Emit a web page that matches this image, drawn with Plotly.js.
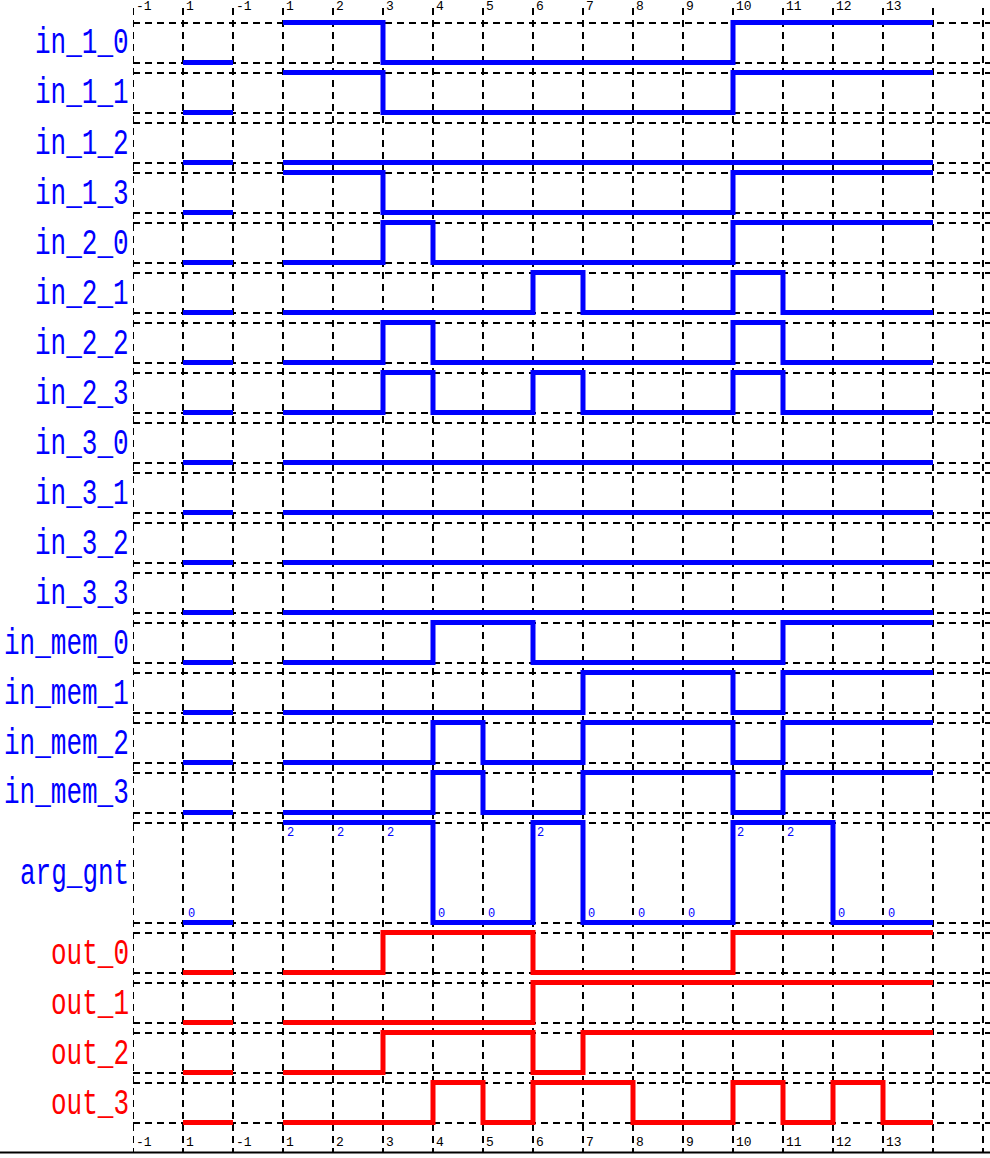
<!DOCTYPE html>
<html>
<head>
<meta charset="utf-8">
<script src="https://cdn.plot.ly/plotly-3.0.1.min.js"></script>
<style>
html,body{margin:0;padding:0;background:#fff;}
#chart{width:990px;height:1158px;}
</style>
</head>
<body>
<div id="chart"></div>
<script>
// ---- data ----
const tickLabels = ["-1","1","-1","1","2","3","4","5","6","7","8","9","10","11","12","13"];
const signalNames = ["in_1_0","in_1_1","in_1_2","in_1_3","in_2_0","in_2_1","in_2_2","in_2_3",
  "in_3_0","in_3_1","in_3_2","in_3_3","in_mem_0","in_mem_1","in_mem_2","in_mem_3",
  "arg_gnt","out_0","out_1","out_2","out_3"];
const initialValues = [0,0,0,0,0,0,0,0,0,0,0,0,0,0,0,0,0,0,0,0,0];
const in_1_0   = [1,1,0,0,0,0,0,0,0,1,1,1,1];
const in_1_1   = [1,1,0,0,0,0,0,0,0,1,1,1,1];
const in_1_2   = [0,0,0,0,0,0,0,0,0,0,0,0,0];
const in_1_3   = [1,1,0,0,0,0,0,0,0,1,1,1,1];
const in_2_0   = [0,0,1,0,0,0,0,0,0,1,1,1,1];
const in_2_1   = [0,0,0,0,0,1,0,0,0,1,0,0,0];
const in_2_2   = [0,0,1,0,0,0,0,0,0,1,0,0,0];
const in_2_3   = [0,0,1,0,0,1,0,0,0,1,0,0,0];
const in_3_0   = [0,0,0,0,0,0,0,0,0,0,0,0,0];
const in_3_1   = [0,0,0,0,0,0,0,0,0,0,0,0,0];
const in_3_2   = [0,0,0,0,0,0,0,0,0,0,0,0,0];
const in_3_3   = [0,0,0,0,0,0,0,0,0,0,0,0,0];
const in_mem_0 = [0,0,0,1,1,0,0,0,0,0,1,1,1];
const in_mem_1 = [0,0,0,0,0,0,1,1,1,0,1,1,1];
const in_mem_2 = [0,0,0,1,0,0,1,1,1,0,1,1,1];
const in_mem_3 = [0,0,0,1,0,0,1,1,1,0,1,1,1];
const arg_gnt  = [2,2,2,0,0,2,0,0,0,2,2,0,0];
const out_0    = [0,0,1,1,1,0,0,0,0,1,1,1,1];
const out_1    = [0,0,0,0,0,1,1,1,1,1,1,1,1];
const out_2    = [0,0,1,1,1,0,1,1,1,1,1,1,1];
const out_3    = [0,0,0,1,0,1,1,0,0,1,0,1,0];
const signalValues = [in_1_0,in_1_1,in_1_2,in_1_3,in_2_0,in_2_1,in_2_2,in_2_3,
  in_3_0,in_3_1,in_3_2,in_3_3,in_mem_0,in_mem_1,in_mem_2,in_mem_3,
  arg_gnt,out_0,out_1,out_2,out_3];
const signalMax = [1,1,1,1,1,1,1,1,1,1,1,1,1,1,1,1,2,1,1,1,1];

// ---- layout helpers ----
const W = 990, H = 1158, L = 133, COL = 50;
const BLUE = "#0000ff", RED = "#ff0000";
const MONO = "Liberation Mono, DejaVu Sans Mono, monospace";
const py = p => 1 - p / H;
const xMax = (W - L) / COL;
const initPos = 1;     // column of the initial value
const firstStep = 3;   // column of step "1"
const GRIDDASH = "7px,5px";

const traces = [];
const annotations = [];
const shapes = [];
const layout = {
  width: W, height: H,
  margin: {l: L, r: 0, t: 0, b: 0, pad: 0},
  paper_bgcolor: "#ffffff",
  plot_bgcolor: "rgba(0,0,0,0)",
  showlegend: false,
  hovermode: false,
  xaxis: {range: [0, xMax], domain: [0, 1], anchor: "y", showgrid: false, zeroline: false,
          showticklabels: false, ticks: "", showline: false, fixedrange: true}
};

let rowTop = 22.5;
signalNames.forEach((name, i) => {
  const vmax = signalMax[i];
  const h = vmax > 1 ? 100 : 40;
  const pad = 5 / h * vmax;
  const axId = i === 0 ? "y" : "y" + (i + 1);
  const axKey = i === 0 ? "yaxis" : "yaxis" + (i + 1);
  layout[axKey] = {
    domain: [py(rowTop + h + 5), py(rowTop - 5)],
    range: [-pad, vmax + pad], autorange: false,
    anchor: "x", tickvals: [0, vmax], showticklabels: false, ticks: "",
    showgrid: true, gridcolor: "#000000", gridwidth: 2, griddash: GRIDDASH,
    zeroline: false, showline: false, fixedrange: true
  };
  const color = name.startsWith("out") ? RED : BLUE;
  const vals = signalValues[i];
  // initial value segment
  traces.push({
    type: "scatter", mode: "lines", x: [initPos, initPos + 1],
    y: [initialValues[i], initialValues[i]], yaxis: axId, xaxis: "x",
    line: {color: color, width: 5}, hoverinfo: "skip"
  });
  // main waveform
  const xs = [], ys = [];
  vals.forEach((v, k) => { xs.push(firstStep + k); ys.push(v); });
  xs.push(firstStep + vals.length); ys.push(vals[vals.length - 1]);
  traces.push({
    type: "scatter", mode: "lines", x: xs, y: ys, yaxis: axId, xaxis: "x",
    line: {color: color, width: 5, shape: "hv"}, hoverinfo: "skip"
  });
  // value labels for multi-level bus
  if (vmax > 1) {
    const tx = [initPos], ty = [initialValues[i]];
    vals.forEach((v, k) => { tx.push(firstStep + k); ty.push(v); });
    tx.forEach((x, k) => {
      const hi = ty[k] >= vmax;
      annotations.push({
        text: String(ty[k]), xref: "x", x: x, xanchor: "left", xshift: hi ? 2 : 3,
        yref: axId, y: ty[k], yanchor: hi ? "top" : "bottom", yshift: hi ? -1 : 0,
        showarrow: false, font: {family: MONO, size: 12, color: color}
      });
    });
  }
  // row label
  annotations.push({
    text: name, xref: "paper", x: -2 / (W - L), xanchor: "right",
    yref: axId + " domain", y: 0.5, yanchor: "middle", yshift: -1, showarrow: false,
    font: {family: MONO, size: 26, color: color}
  });
  rowTop += h + 10;
});

// tick labels top & bottom
tickLabels.forEach((t, k) => {
  [7, 1142].forEach(yp => {
    annotations.push({
      text: t, xref: "x", x: k, xanchor: "left", xshift: 1,
      yref: "paper", y: py(yp), yanchor: "middle", showarrow: false,
      font: {family: MONO, size: 13, color: "#000000"}
    });
  });
});

// vertical dashed grid
for (let k = 0; k <= Math.floor(xMax); k++) {
  shapes.push({type: "line", layer: "below", xref: "x", x0: k, x1: k,
    yref: "paper", y0: py(8), y1: py(1152),
    line: {color: "#000000", width: 2, dash: GRIDDASH}});
}
// bottom solid line
shapes.push({type: "line", layer: "above", xref: "paper", x0: -L / (W - L), x1: 1,
  yref: "paper", y0: py(1152.5), y1: py(1152.5), line: {color: "#000000", width: 2}});

layout.annotations = annotations;
layout.shapes = shapes;

Plotly.newPlot("chart", traces, layout, {staticPlot: true, displayModeBar: false}).then(() => {
  document.querySelectorAll("g.annotation text.annotation-text").forEach(t => {
    if (t.style.fontSize === "26px") {
      t.style.transformBox = "fill-box";
      t.style.transformOrigin = "center";
      t.style.transform = "scaleY(1.4)";
    }
  });
});
</script>
</body>
</html>
